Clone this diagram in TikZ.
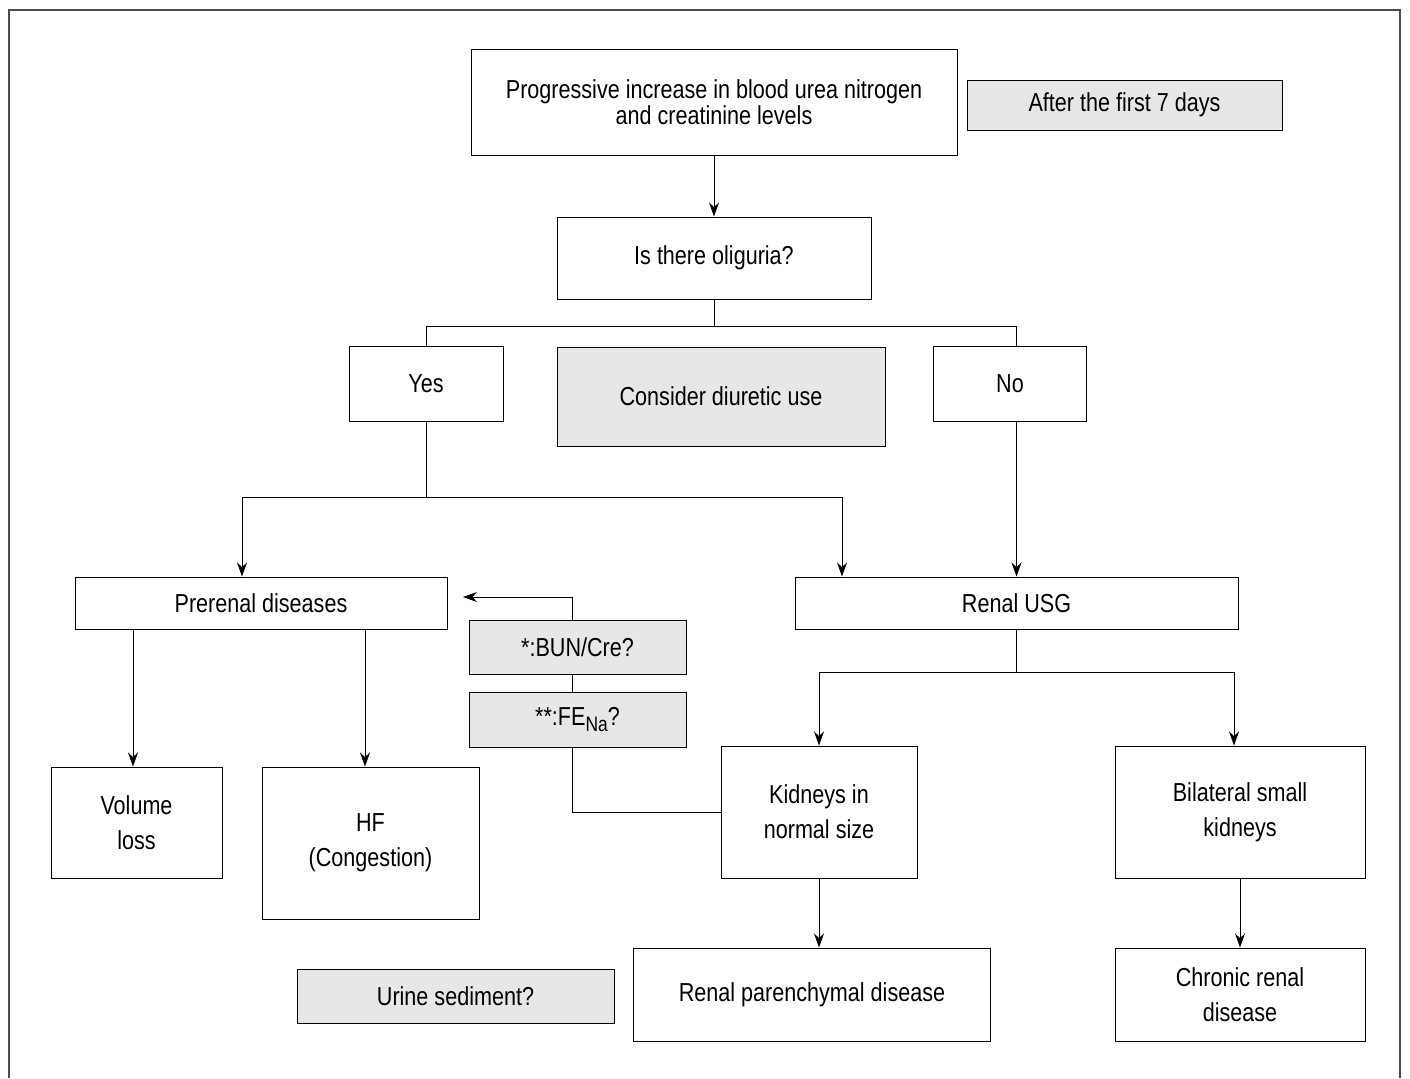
\documentclass[tikz,border=0pt]{standalone}
\usepackage{fontspec}
\setmainfont{Liberation Sans}[FakeStretch=0.83]
\usetikzlibrary{positioning, arrows.meta}
\definecolor{boxgray}{RGB}{230,231,232}

\begin{document}
\begin{tikzpicture}[x=0.5pt, y=-0.5pt, line width=0.5pt,
    whitebox/.style={draw=black, fill=white, align=center, inner sep=2pt,
      font=\fontsize{13}{17.5}\selectfont},
    graybox/.style={whitebox, fill=boxgray},
    flow/.style={-{Stealth[length=7pt, width=5pt]}},
  ]
  \useasboundingbox (0,0) rectangle (1410,1078);
  % open frame (no bottom edge)
  \draw[gray!60!black, line width=0.6pt] (9,1078) -- (9,10) -- (1400,10) -- (1400,1078);

  % top row
  \node[whitebox, minimum width=243pt, minimum height=53pt,
    font=\fontsize{13}{12.8}\selectfont] (top) at (714,102)
    {Progressive increase in blood urea nitrogen\\and creatinine levels};
  \node[graybox, minimum width=157.5pt, minimum height=25pt] (after) at (1124.5,105) {After the first 7 days};
  \node[whitebox, minimum width=157pt, minimum height=41pt] (olig) at (714,258) {Is there oliguria?};

  % answers
  \node[whitebox, minimum width=77pt, minimum height=37.5pt] (yes) at (426,383.5) {Yes};
  \node[graybox, minimum width=164pt, minimum height=49.5pt] (diur) at (721,396.5) {Consider diuretic use};
  \node[whitebox, minimum width=76.5pt, minimum height=37.5pt] (no) at (1010,383.5) {No};

  % second level
  \node[whitebox, minimum width=186pt, minimum height=26pt] (prerenal) at (261,603) {Prerenal diseases};
  \node[whitebox, minimum width=221.5pt, minimum height=26pt] (usg) at (1016.5,603) {Renal USG};
  \node[graybox, minimum width=108.5pt, minimum height=27pt] (bun) at (577.5,647) {*:BUN/Cre?};
  \node[graybox, minimum width=108.5pt, minimum height=27.5pt] (fena) at (577.5,719.5)
    {**:FE\raisebox{-0.4ex}{\fontsize{10.5}{10.5}\selectfont Na}?};

  % third level
  \node[whitebox, minimum width=85.5pt, minimum height=55.5pt] (vol) at (136.5,822.5) {Volume\\loss};
  \node[whitebox, minimum width=108.5pt, minimum height=76pt] (hf) at (370.5,843) {HF\\(Congestion)};
  \node[whitebox, minimum width=98pt, minimum height=66pt] (kid) at (819,812) {Kidneys in\\normal size};
  \node[whitebox, minimum width=125pt, minimum height=66pt] (bil) at (1240,812) {Bilateral small\\kidneys};

  % bottom row
  \node[graybox, minimum width=158.5pt, minimum height=27pt] (urine) at (455.5,996) {Urine sediment?};
  \node[whitebox, minimum width=178.5pt, minimum height=46.5pt] (par) at (812,994.5) {Renal parenchymal disease};
  \node[whitebox, minimum width=125pt, minimum height=46.5pt] (chr) at (1240,994.5) {Chronic renal\\disease};

  % connectors
  \draw[flow] (top.south) -- (olig.north);
  \coordinate (oligsplit) at (714,326);
  \draw (olig.south) -- (oligsplit);
  \draw (oligsplit) -| (yes.north);
  \draw (oligsplit) -| (no.north -| usg.north);
  \draw[flow] (no.south -| usg.north) -- (usg.north);

  \coordinate (yessplit) at (426,497);
  \coordinate (toprerenal) at (242,497);
  \coordinate (tousg) at (842,497);
  \draw (yes.south) -- (yessplit);
  \draw[flow] (yessplit) -- (toprerenal) -- (toprerenal |- prerenal.north);
  \draw[flow] (yessplit) -- (tousg) -- (tousg |- usg.north);

  \draw[flow] ([xshift=-1.75pt]vol.north |- prerenal.south) -- ([xshift=-1.75pt]vol.north);
  \draw[flow] ([xshift=-2.75pt]hf.north |- prerenal.south) -- ([xshift=-2.75pt]hf.north);

  \coordinate (bunback) at (463,597);
  \draw[flow] ([xshift=-2.75pt]bun.north) |- (bunback);
  \draw ([xshift=-2.75pt]bun.south) -- ([xshift=-2.75pt]fena.north);
  \draw ([xshift=-2.75pt]fena.south) |- (kid.west);

  \coordinate (usgsplit) at (1016.5,672);
  \draw (usg.south) -- (usgsplit);
  \draw[flow] (usgsplit) -| (kid.north);
  \draw[flow] (usgsplit) -| ([xshift=-3pt]bil.north);
  \draw[flow] (kid.south) -- (kid.south |- par.north);
  \draw[flow] (bil.south) -- (chr.north);
\end{tikzpicture}
\end{document}
